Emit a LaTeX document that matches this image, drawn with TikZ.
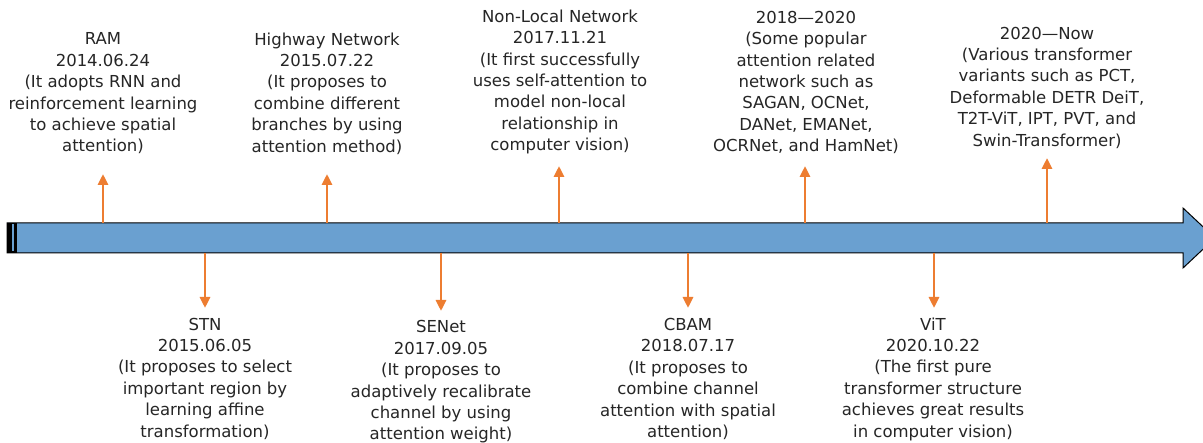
\documentclass[tikz,border=0pt]{standalone}
\usepackage{fontspec}
\setmainfont{DejaVu Sans}
\usetikzlibrary{arrows.meta}
\definecolor{barblue}{RGB}{106,160,208}
\definecolor{evorange}{RGB}{237,125,49}
\begin{document}
\begin{tikzpicture}[x=1pt,y=-1pt,
  lbl/.style={align=center,font=\fontsize{16.5}{21.4}\selectfont,inner sep=0pt,text=black!85},
  evarrow/.style={evorange,line width=2.8pt,-{Triangle[length=11pt,width=10pt]}}]
\useasboundingbox (0,0) rectangle (1203,443);
\fill[white] (0,0) rectangle (1203,443);
% timeline bar
\draw[fill=barblue,line width=1pt,line join=miter] (7,223) -- (1183,223) -- (1183,208) -- (1215,238) -- (1183,268) -- (1183,253) -- (7,253) -- cycle;
\fill[black] (7,223) rectangle (17,253);
\fill[barblue] (12,224.5) rectangle (13.5,251.5);
% anchor coordinates on the bar
\coordinate (ramb) at (103,223);   \coordinate (ramt) at (103,174);
\coordinate (hwb) at (327,223);    \coordinate (hwt) at (327,174);
\coordinate (nlb) at (559,223);    \coordinate (nlt) at (559,166);
\coordinate (popb) at (805,223);   \coordinate (popt) at (805,166);
\coordinate (nowb) at (1047,223);  \coordinate (nowt) at (1047,158);
\coordinate (stnb) at (205,253);   \coordinate (stnt) at (205,308);
\coordinate (seb) at (441,253);    \coordinate (set) at (441,311);
\coordinate (cbb) at (688,253);    \coordinate (cbt) at (688,308);
\coordinate (vitb) at (934,253);   \coordinate (vitt) at (934,308);
\draw[evarrow] (ramb) -- (ramt);
\draw[evarrow] (hwb) -- (hwt);
\draw[evarrow] (nlb) -- (nlt);
\draw[evarrow] (popb) -- (popt);
\draw[evarrow] (nowb) -- (nowt);
\draw[evarrow] (stnb) -- (stnt);
\draw[evarrow] (seb) -- (set);
\draw[evarrow] (cbb) -- (cbt);
\draw[evarrow] (vitb) -- (vitt);
% labels above
\node[lbl] (ram) at (103,93.5) {RAM\\2014.06.24\\(It adopts RNN and\\reinforcement learning\\to achieve spatial\\attention)};
\node[lbl] (hw) at (327,93.5) {Highway Network\\2015.07.22\\(It proposes to\\combine different\\branches by using\\attention method)};
\node[lbl] (nl) at (560,82) {Non-Local Network\\2017.11.21\\(It first successfully\\uses self-attention to\\model non-local\\relationship in\\computer vision)};
\node[lbl] (pop) at (806,82.5) {2018—2020\\(Some popular\\attention related\\network such as\\SAGAN, OCNet,\\DANet, EMANet,\\OCRNet, and HamNet)};
\node[lbl] (now) at (1047,87.5) {2020—Now\\(Various transformer\\variants such as PCT,\\Deformable DETR DeiT,\\T2T-ViT, IPT, PVT, and\\Swin-Transformer)};
% labels below
\node[lbl] (stn) at (205,378.5) {STN\\2015.06.05\\(It proposes to select\\important region by\\learning affine\\transformation)};
\node[lbl] (se) at (441,382) {SENet\\2017.09.05\\(It proposes to\\adaptively recalibrate\\channel by using\\attention weight)};
\node[lbl] (cb) at (688,379) {CBAM\\2018.07.17\\(It proposes to\\combine channel\\attention with spatial\\attention)};
\node[lbl] (vit) at (933,379) {ViT\\2020.10.22\\(The first pure\\transformer structure\\achieves great results\\in computer vision)};
\end{tikzpicture}
\end{document}
